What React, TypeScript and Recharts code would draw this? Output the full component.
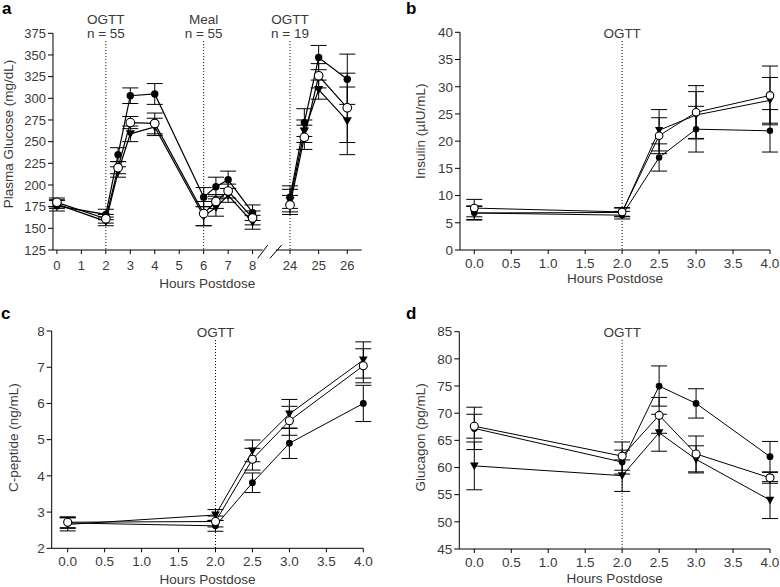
import React from "react";
import { LineChart, Line, XAxis, YAxis, ErrorBar, ReferenceLine } from "recharts";

const FONT = '"Liberation Sans", Arial, Helvetica, sans-serif';
const INK = "#3a3a3a";

// a: plasma glucose, hours postdose (broken axis 8 -> 24)
const A_HOURS = [0, 2, 2.5, 3, 4, 6, 6.5, 7, 8, 24, 24.5, 25, 26];
const A_FILLED = [176, 166, 235, 303, 305, 186, 198, 206, 168, 186, 272, 347, 322];
const A_FILLED_SE = [6, 6, 8, 9, 12, 11, 11, 10, 9, 13, 16, 14, 29];
const A_OPEN = [180, 161, 220, 272, 271, 167, 181, 193, 162, 177, 255, 326, 289];
const A_OPEN_SE = [5, 5, 7, 7, 12, 14, 8, 8, 8, 11, 14, 14, 40];
const A_TRI = [178, 158, 215, 259, 267, 164, 174, 188, 157, 182, 262, 310, 274];
const A_TRI_SE = [5, 5, 6, 9, 10, 11, 10, 8, 8, 13, 13, 11, 39];
const A_XTICKS = [0, 1, 2, 3, 4, 5, 6, 7, 8, 24, 25, 26];
const A_YTICKS = [125, 150, 175, 200, 225, 250, 275, 300, 325, 350, 375];

// b: insulin
const B_HOURS = [0, 2, 2.5, 3, 4];
const B_FILLED = [6.8, 6.4, 17.0, 22.2, 21.9];
const B_FILLED_SE = [1.3, 0.7, 2.5, 4.2, 3.9];
const B_OPEN = [7.7, 7.0, 21.0, 25.3, 28.4];
const B_OPEN_SE = [1.6, 0.8, 3.3, 4.9, 5.4];
const B_TRI = [6.8, 6.9, 22.0, 24.8, 27.5];
const B_TRI_SE = [1.2, 0.8, 3.8, 4.3, 4.2];
const B_YTICKS = [0, 5, 10, 15, 20, 25, 30, 35, 40];

// c: C-peptide
const C_FILLED = [2.7, 2.62, 3.81, 4.9, 6.0];
const C_FILLED_SE = [0.15, 0.15, 0.27, 0.42, 0.5];
const C_OPEN = [2.72, 2.74, 4.46, 5.52, 7.04];
const C_OPEN_SE = [0.15, 0.15, 0.3, 0.4, 0.47];
const C_TRI = [2.66, 2.92, 4.69, 5.71, 7.2];
const C_TRI_SE = [0.18, 0.15, 0.3, 0.4, 0.5];
const C_YTICKS = [2, 3, 4, 5, 6, 7, 8];

// d: glucagon
const D_FILLED = [67.2, 61.0, 75.0, 71.8, 62.0];
const D_FILLED_SE = [3.9, 2.2, 3.7, 2.7, 2.8];
const D_OPEN = [67.6, 62.1, 69.6, 62.5, 58.1];
const D_OPEN_SE = [2.2, 2.6, 3.3, 3.3, 1.0];
const D_TRI = [60.3, 58.5, 66.4, 61.5, 54.0];
const D_TRI_SE = [4.4, 2.9, 3.4, 2.5, 3.4];
const D_YTICKS = [45, 50, 55, 60, 65, 70, 75, 80, 85];

const HOUR_TICKS = [0, 0.5, 1, 1.5, 2, 2.5, 3, 3.5, 4];

// broken-axis position for panel a
const posA = (h: number) => (h <= 8 ? h : 9.53 + (h - 24) * 1.17);
const AXIS_A_SEGS = [
  [{ x: -0.16, y: 125 }, { x: 8.41, y: 125 }],
  [{ x: 8.95, y: 125 }, { x: 12.46, y: 125 }],
  [{ x: 8.21, y: 115.4 }, { x: 8.62, y: 130.8 }],
  [{ x: 8.71, y: 115.4 }, { x: 9.19, y: 130.8 }],
];

type Kind = "filled" | "open" | "tri";

function dotFor(kind: Kind, r: number) {
  return (p: any) => {
    const { cx, cy, index } = p;
    if (cx == null || cy == null || isNaN(cx) || isNaN(cy)) return <g key={`n${index}`} />;
    if (kind === "filled") return <circle key={index} cx={cx} cy={cy} r={r} fill="#000" />;
    if (kind === "open")
      return <circle key={index} cx={cx} cy={cy} r={r + 0.6} fill="#fff" stroke="#000" strokeWidth={1.1} />;
    const s = r + 0.9;
    return (
      <path key={index} d={`M${cx - s},${cy - s * 0.8}L${cx + s},${cy - s * 0.8}L${cx},${cy + s}Z`} fill="#000" />
    );
  };
}

function rowsFrom(hours: number[], toX: (h: number) => number, cols: Record<string, number[]>) {
  return hours.map((h, i) => {
    const row: any = { x: toX(h) };
    for (const k in cols) row[k] = cols[k][i];
    return row;
  });
}

function seriesLines(r: number, sw: number, cap: number) {
  const defs: [string, Kind][] = [
    ["t", "tri"],
    ["f", "filled"],
    ["o", "open"],
  ];
  return defs.map(([k, kind]) => (
    <Line
      key={k}
      type="linear"
      dataKey={k}
      stroke="#000"
      strokeWidth={sw}
      dot={dotFor(kind, r)}
      activeDot={false}
      isAnimationActive={false}
    >
      <ErrorBar dataKey={k + "e"} width={cap} stroke="#000" strokeWidth={1} isAnimationActive={false} />
    </Line>
  ));
}

function topNote(lines: string[], fs: number) {
  return (p: any) => {
    const vb = p.viewBox || {};
    const x = vb.x ?? 0;
    const y = vb.y ?? 0;
    return (
      <g>
        {lines.map((s, i) => (
          <text
            key={i}
            x={x}
            y={y - 3 - (lines.length - 1 - i) * 14}
            textAnchor="middle"
            fill={INK}
            fontSize={fs}
            fontFamily={FONT}
          >
            {s}
          </text>
        ))}
      </g>
    );
  };
}

function xTitle(baseline: number) {
  return (p: any) => {
    const vb = p.viewBox || {};
    return (
      <text x={vb.x + vb.width / 2} y={baseline} textAnchor="middle" fill={INK} fontSize={13.5} fontFamily={FONT}>
        Hours Postdose
      </text>
    );
  };
}

function yTitle(value: string, cx: number, shift: number) {
  return (p: any) => {
    const vb = p.viewBox || {};
    const cy = vb.y + vb.height / 2 + shift;
    return (
      <text
        transform={`translate(${cx},${cy}) rotate(-90)`}
        textAnchor="middle"
        dominantBaseline="central"
        fill={INK}
        fontSize={13.5}
        fontFamily={FONT}
      >
        {value}
      </text>
    );
  };
}

const tickStyle = (fs: number) => ({ fill: INK, fontSize: fs, fontFamily: FONT });
const axisStroke = { stroke: "#000" };
const dotted = { stroke: "#000", strokeWidth: 1, strokeDasharray: "1 2" };

const dataA = (() => {
  const rows = rowsFrom(A_HOURS, posA, {
    f: A_FILLED, fe: A_FILLED_SE, o: A_OPEN, oe: A_OPEN_SE, t: A_TRI, te: A_TRI_SE,
  });
  const cut = A_HOURS.indexOf(8) + 1;
  rows.splice(cut, 0, { x: 8.7 });
  return rows;
})();

const short = (f: number[], fe: number[], o: number[], oe: number[], t: number[], te: number[]) =>
  rowsFrom(B_HOURS, (h) => h, { f, fe, o, oe, t, te });

const dataB = short(B_FILLED, B_FILLED_SE, B_OPEN, B_OPEN_SE, B_TRI, B_TRI_SE);
const dataC = short(C_FILLED, C_FILLED_SE, C_OPEN, C_OPEN_SE, C_TRI, C_TRI_SE);
const dataD = short(D_FILLED, D_FILLED_SE, D_OPEN, D_OPEN_SE, D_TRI, D_TRI_SE);

function Letter({ ch, left, top }: { ch: string; left: number; top: number }) {
  return (
    <div
      style={{
        position: "absolute",
        left,
        top,
        fontSize: 17,
        fontWeight: "bold",
        lineHeight: "17px",
        fontFamily: FONT,
        color: "#000",
      }}
    >
      {ch}
    </div>
  );
}

export default function App() {
  return (
    <div
      style={{
        position: "absolute",
        left: 0,
        top: 0,
        width: 780,
        height: 587,
        overflow: "hidden",
        background: "#fff",
      }}
    >
      <style>{`.recharts-surface{overflow:visible}`}</style>

      <Letter ch="a" left={2} top={0} />
      <Letter ch="b" left={406} top={0} />
      <Letter ch="c" left={1} top={305} />
      <Letter ch="d" left={406} top={305} />

      {/* a */}
      <div style={{ position: "absolute", left: 0, top: 0 }}>
        <LineChart width={390} height={300} data={dataA} margin={{ top: 33.3, right: 28.3, bottom: 0, left: 0 }}>
          <XAxis
            type="number"
            dataKey="x"
            domain={[-0.16, 12.46]}
            ticks={A_XTICKS.map(posA)}
            interval={0}
            tickFormatter={(_v: number, i: number) => String(A_XTICKS[i])}
            height={50}
            axisLine={false}
            tickLine={axisStroke}
            tickSize={4}
            tickMargin={6.5}
            tick={tickStyle(13)}
            label={xTitle(288)}
          />
          <YAxis
            type="number"
            domain={[125, 375]}
            ticks={A_YTICKS}
            interval={0}
            width={53}
            axisLine={axisStroke}
            tickLine={axisStroke}
            tickSize={5}
            tickMargin={2}
            tick={tickStyle(13)}
            label={yTitle("Plasma Glucose (mg/dL)", 8.5, -7.7)}
          />
          {AXIS_A_SEGS.map((seg, i) => (
            <ReferenceLine key={`ax${i}`} segment={seg as any} stroke="#000" strokeWidth={1} ifOverflow="visible" />
          ))}
          <ReferenceLine
            segment={[{ x: posA(2), y: 366 }, { x: posA(2), y: 125 }]}
            {...dotted}
            ifOverflow="visible"
            label={topNote(["OGTT", "n = 55"], 13.5)}
          />
          <ReferenceLine
            segment={[{ x: posA(6), y: 366 }, { x: posA(6), y: 125 }]}
            {...dotted}
            ifOverflow="visible"
            label={topNote(["Meal", "n = 55"], 13.5)}
          />
          <ReferenceLine
            segment={[{ x: posA(24), y: 366 }, { x: posA(24), y: 125 }]}
            {...dotted}
            ifOverflow="visible"
            label={topNote(["OGTT", "n = 19"], 13.5)}
          />
          {seriesLines(3.7, 1.2, 8)}
        </LineChart>
      </div>

      {/* b */}
      <div style={{ position: "absolute", left: 390, top: 0 }}>
        <LineChart width={390} height={300} data={dataB} margin={{ top: 32.3, right: 10, bottom: 0, left: 0 }}>
          <XAxis
            type="number"
            dataKey="x"
            domain={[-0.193, 4]}
            ticks={HOUR_TICKS}
            interval={0}
            tickFormatter={(v: number) => v.toFixed(1)}
            height={50}
            axisLine={axisStroke}
            tickLine={axisStroke}
            tickSize={4}
            tickMargin={4.5}
            tick={tickStyle(13.5)}
            label={xTitle(283)}
          />
          <YAxis
            type="number"
            domain={[0, 40]}
            ticks={B_YTICKS}
            interval={0}
            width={70}
            axisLine={axisStroke}
            tickLine={axisStroke}
            tickSize={5}
            tickMargin={2}
            tick={tickStyle(13.5)}
            label={yTitle("Insulin (\u00b5IU/mL)", 30, -10)}
          />
          <ReferenceLine
            segment={[{ x: 2, y: 38.4 }, { x: 2, y: 0 }]}
            {...dotted}
            ifOverflow="visible"
            label={topNote(["OGTT"], 13.5)}
          />
          {seriesLines(3.2, 1, 8)}
        </LineChart>
      </div>

      {/* c */}
      <div style={{ position: "absolute", left: 0, top: 295 }}>
        <LineChart width={390} height={292} data={dataC} margin={{ top: 36, right: 26.7, bottom: 0, left: 0 }}>
          <XAxis
            type="number"
            dataKey="x"
            domain={[-0.2165, 4]}
            ticks={HOUR_TICKS}
            interval={0}
            tickFormatter={(v: number) => v.toFixed(1)}
            height={38.7}
            axisLine={axisStroke}
            tickLine={axisStroke}
            tickSize={4}
            tickMargin={4}
            tick={tickStyle(13.5)}
            label={xTitle(289)}
          />
          <YAxis
            type="number"
            domain={[2, 8]}
            ticks={C_YTICKS}
            interval={0}
            width={51.7}
            axisLine={axisStroke}
            tickLine={axisStroke}
            tickSize={5}
            tickMargin={2}
            tick={tickStyle(13.5)}
            label={yTitle("C-peptide (ng/mL)", 13.3, -2)}
          />
          <ReferenceLine
            segment={[{ x: 2, y: 7.75 }, { x: 2, y: 2 }]}
            {...dotted}
            ifOverflow="visible"
            label={topNote(["OGTT"], 13.5)}
          />
          {seriesLines(3.4, 1, 8)}
        </LineChart>
      </div>

      {/* d */}
      <div style={{ position: "absolute", left: 390, top: 295 }}>
        <LineChart width={390} height={292} data={dataD} margin={{ top: 36.7, right: 10, bottom: 0, left: 0 }}>
          <XAxis
            type="number"
            dataKey="x"
            domain={[-0.203, 4]}
            ticks={HOUR_TICKS}
            interval={0}
            tickFormatter={(v: number) => v.toFixed(1)}
            height={38}
            axisLine={axisStroke}
            tickLine={axisStroke}
            tickSize={4}
            tickMargin={4}
            tick={tickStyle(13.5)}
            label={xTitle(288)}
          />
          <YAxis
            type="number"
            domain={[45, 85]}
            ticks={D_YTICKS}
            interval={0}
            width={69.3}
            axisLine={axisStroke}
            tickLine={axisStroke}
            tickSize={5}
            tickMargin={2}
            tick={tickStyle(13.5)}
            label={yTitle("Glucagon (pg/mL)", 30, -3)}
          />
          <ReferenceLine
            segment={[{ x: 2, y: 83.5 }, { x: 2, y: 45 }]}
            {...dotted}
            ifOverflow="visible"
            label={topNote(["OGTT"], 13.5)}
          />
          {seriesLines(3.4, 1, 8)}
        </LineChart>
      </div>
    </div>
  );
}
